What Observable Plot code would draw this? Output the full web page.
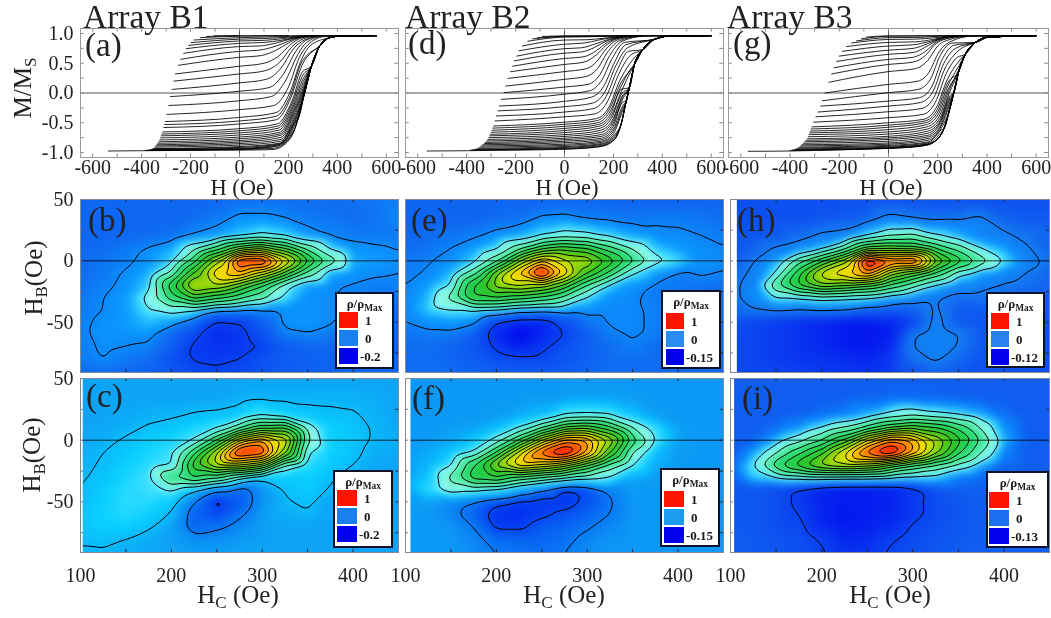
<!DOCTYPE html>
<html><head><meta charset="utf-8">
<script src="https://cdn.jsdelivr.net/npm/d3@7"></script>
<script src="https://cdn.jsdelivr.net/npm/@observablehq/plot@0.6"></script>
<style>
html,body{margin:0;padding:0;background:#fff;width:1051px;height:618px;overflow:hidden}
#root{position:relative;width:1051px;height:618px;font-family:"Liberation Serif",serif;color:#222;filter:blur(.45px)}
#root svg{position:absolute;overflow:visible;background:none}
.t{position:absolute;white-space:nowrap;line-height:1}
.t sub{font-size:.68em;vertical-align:-.32em;line-height:0}
.lg{position:absolute;background:#fff;border:2px solid #0a1428;box-sizing:border-box}
.sw{position:absolute}
.lt{position:absolute;font-weight:bold;font-size:13px;line-height:1;white-space:nowrap;color:#1a1a1a}
</style></head><body><div id="root"></div>
<script>
// ---- tick values
const hTicks=[-600,-400,-200,0,200,400,600];
const hMinor=[-600,-500,-400,-300,-200,-100,0,100,200,300,400,500,600];
const mTicks=[1,.5,0,-.5,-1];
const mMinor=[1,.75,.5,.25,0,-.25,-.5,-.75,-1];
const hcTicks=[100,200,300,400];
const hcMinor=[150,200,250,300,350,400];
const hbTicks=[50,0,-50];
const hbMinor=[25,0,-25,-50,-75];

// ---- FORC curves: H,M pairs per curve, then each joins its envelope
const envB1=[[0,-.96],[100,-.955],[137,-.95],[205,-.78],[239,-.44],[266,0],[294,.45],[328,.79],[369,.93],[420,.96],[560,.965]];
const curvesB1=[
[-105,.96,0,.965],
[-135,.95,0,.962,200,.965],
[-160,.93,0,.955,100,.958,200,.96,280,.965],
[-186,.89,0,.93,100,.94,180,.95,260,.96],
[-198,.846,0,.905,100,.915,170,.93,250,.955,300,.965],
[-208,.80,0,.875,100,.885,170,.91,240,.945,300,.965],
[-218,.745,0,.835,100,.85,170,.885,230,.93,300,.965],
[-228,.667,0,.78,80,.79,150,.84,220,.92,300,.965],
[-240,.566,0,.70,80,.72,150,.79,200,.87,240,.93,310,.965],
[-250,.465,0,.60,90,.63,150,.72,200,.84,240,.92,310,.965],
[-262,.32,0,.45,100,.50,160,.62,210,.82,250,.92,320,.965],
[-268,.20,0,.32,100,.37,165,.52,215,.78,260,.91,330,.965],
[-276,.06,0,.17,110,.23,170,.42,220,.74,265,.89,340,.965],
[-282,-.06,0,.03,120,.09,180,.32,230,.70,270,.88,340,.96],
[-289,-.21,0,-.13,130,-.06,190,.22,240,.66,275,.85,350,.96],
[-296,-.36,0,-.28,140,-.21,200,.10,245,.60,285,.83,350,.95],
[-303,-.48,0,-.41,150,-.33,205,0,250,.53,290,.80],
[-306,-.53,0,-.47,150,-.39,208,-.04,252,.5],
[-309,-.58,0,-.52,150,-.45,210,-.08,255,.46],
[-314,-.655,0,-.60,155,-.52,215,-.13,258,.36],
[-317,-.69,0,-.635,158,-.555,216,-.165,259,.3],
[-320,-.72,0,-.67,160,-.59,218,-.20,260,.24],
[-323,-.755,0,-.705,162,-.625,220,-.225,261,.19],
[-326,-.79,0,-.74,165,-.66,222,-.25,262,.14],
[-330,-.82,0,-.77,168,-.685,224,-.275,263,.1],
[-334,-.845,0,-.80,170,-.71,225,-.30,264,.07],
[-338,-.87,0,-.825,170,-.745,226,-.33,264,.05],
[-342,-.89,0,-.85,170,-.78,228,-.36,265,.03],
[-346,-.91,0,-.875,170,-.81,230,-.38],
[-350,-.935,0,-.90,170,-.84,232,-.40],
[-355,-.94,0,-.915,165,-.855,233,-.42],
[-360,-.95,0,-.93,160,-.87,235,-.44],
[-365,-.955,0,-.94,155,-.885,236,-.45],
[-375,-.96,0,-.945,150,-.9,225,-.6],
[-385,-.965,0,-.95,140,-.93,215,-.7],
[-536,-.975,-400,-.97,-200,-.965]];
const envB2=[[13,-.945],[150,-.9],[204,-.78],[231,-.53],[252,-.14],[265,.09],[286,.48],[320,.73],[367,.9],[423,.955],[600,.965]];
const curvesB2=[
[-90,.95,0,.96],
[-110,.93,0,.955,120,.958,220,.962,290,.965],
[-130,.91,0,.95,150,.955],
[-150,.87,0,.94,100,.945,180,.955,260,.965],
[-172,.79,0,.89,90,.895,160,.92,230,.95,290,.965],
[-186,.71,0,.82,80,.84,140,.89,200,.935,280,.965],
[-195,.62,0,.745,70,.76,130,.83,180,.9,240,.95,300,.965],
[-205,.54,0,.67,70,.69,120,.76,170,.87,230,.94,300,.965],
[-212,.45,0,.58,80,.61,130,.71,175,.85,230,.93,310,.965],
[-220,.358,0,.48,80,.52,130,.64,170,.8,220,.92,310,.965],
[-231,.246,0,.36,90,.41,130,.52,170,.74,220,.9,320,.965],
[-240,.117,0,.23,90,.28,135,.41,175,.68,225,.88,330,.96],
[-247,.006,0,.1,100,.15,145,.31,185,.63,235,.87,330,.955],
[-258,-.106,0,-.02,105,.04,150,.2,195,.58,245,.85],
[-266,-.218,0,-.14,110,-.07,160,.11,205,.52,250,.81],
[-271,-.30,0,-.23,115,-.17,165,.02,210,.46,258,.76],
[-278,-.386,0,-.32,120,-.26,170,-.06,215,.38,262,.7],
[-284,-.47,0,-.40,125,-.35,175,-.15,220,.3,266,.62],
[-290,-.554,0,-.49,130,-.43,180,-.25,225,.2,268,.5],
[-293,-.59,0,-.525,132,-.465,182,-.285,228,.15],
[-296,-.626,0,-.56,135,-.50,185,-.32,230,.1,270,.4],
[-299,-.66,0,-.595,138,-.53,188,-.355,231,.06],
[-303,-.694,0,-.63,140,-.56,190,-.39,232,.02,274,.39],
[-306,-.72,0,-.665,142,-.595,192,-.425,234,-.01],
[-309,-.75,0,-.70,145,-.63,195,-.46,236,-.05],
[-313,-.78,0,-.73,148,-.665,196,-.49,237,-.07],
[-318,-.806,0,-.76,150,-.70,198,-.52,238,-.1],
[-323,-.83,0,-.785,150,-.73,199,-.56,239,-.15],
[-328,-.85,0,-.81,150,-.76,200,-.6,240,-.2],
[-334,-.87,0,-.835,150,-.785,200,-.64,238,-.26],
[-340,-.89,0,-.86,150,-.81,200,-.68,235,-.33],
[-347,-.91,0,-.88,150,-.83,203,-.7],
[-355,-.93,0,-.9,150,-.85,205,-.72],
[-365,-.945,0,-.915,150,-.865,205,-.74],
[-375,-.955,0,-.93,150,-.88],
[-385,-.96,0,-.94,140,-.9],
[-561,-.975,-397,-.97,-200,-.96,0,-.945]];
const envB3=[[0,-.93],[120,-.9],[189,-.81],[224,-.61],[250,-.25],[265,0],[286,.37],[312,.65],[353,.85],[408,.94],[600,.965]];
const curvesB3=[
[-90,.94,0,.96],
[-110,.91,0,.955,120,.958,220,.962,290,.965],
[-130,.875,0,.93,130,.935,210,.955],
[-150,.84,0,.90,110,.905,190,.93,250,.955,300,.965],
[-170,.78,0,.85,110,.86,180,.9,240,.945,300,.965],
[-187,.70,0,.79,100,.81,170,.87,230,.94,300,.965],
[-200,.62,0,.72,100,.75,160,.83,215,.92,290,.965],
[-210,.53,0,.65,100,.68,150,.77,200,.89,260,.95,320,.965],
[-221,.425,0,.565,100,.6,150,.7,195,.86,250,.93,320,.965],
[-231,.32,0,.48,100,.52,150,.63,190,.82,245,.92,330,.96],
[-242,.18,0,.36,110,.41,160,.55,200,.79,250,.9,330,.955],
[-258,0,0,.145,120,.2,165,.35,205,.69,255,.87,340,.955],
[-268,-.13,0,.006,120,.06,170,.23,210,.63,258,.84],
[-275,-.22,0,-.135,125,-.08,175,.1,220,.58,265,.8],
[-286,-.32,0,-.22,130,-.16,180,.02,225,.5,272,.75],
[-295,-.40,0,-.315,135,-.26,185,-.07,230,.42,276,.68],
[-304,-.49,0,-.415,140,-.36,190,-.16,235,.33,280,.6],
[-311,-.57,0,-.5,145,-.44,195,-.24,238,.22,283,.52],
[-314,-.605,0,-.54,148,-.47,198,-.28,240,.17],
[-317,-.64,0,-.575,150,-.5,200,-.32,242,.13,285,.45],
[-320,-.67,0,-.615,152,-.535,202,-.36,244,.08],
[-323,-.70,0,-.654,155,-.57,205,-.4,245,.04,286,.4],
[-326,-.735,0,-.69,158,-.605,208,-.43,247,0],
[-329,-.77,0,-.727,160,-.64,210,-.46,248,-.05],
[-335,-.795,0,-.755,160,-.675,211,-.48,249,-.08],
[-340,-.82,0,-.78,160,-.71,212,-.5,250,-.1],
[-346,-.845,0,-.81,162,-.735,214,-.53,250,-.14],
[-352,-.87,0,-.84,165,-.76,215,-.55,250,-.18],
[-357,-.89,0,-.86,165,-.79,215,-.59],
[-362,-.91,0,-.88,165,-.82,215,-.62],
[-368,-.925,0,-.895,165,-.835,212,-.67],
[-375,-.94,0,-.91,165,-.85,210,-.72],
[-382,-.95,0,-.92,162,-.86],
[-390,-.96,0,-.925,160,-.87],
[-400,-.965,0,-.93,150,-.88],
[-570,-.98,-398,-.975,-200,-.955,0,-.93]];

// ---- distribution maps, rows by hbGrid, columns by hcGrid
const hcGrid=[100,125,150,175,200,225,250,275,300,325,350,375,400,425,450];
const hbGrid=[50,35,20,10,0,-10,-20,-30,-40,-50,-60,-70,-80,-91];
const mapB=[
[-.01,-.01,-.01,-.01,-.01,-.01,-.005,0,0,0,0,0,.005,.01,.015],
[-.01,-.01,-.01,-.01,-.01,0,.015,.04,.04,.03,.015,.01,0,.01,.03],
[-.01,-.01,-.005,0,.01,.035,.05,.08,.11,.09,.05,.028,.02,.015,.015],
[-.005,0,.015,.035,.06,.14,.26,.42,.5,.38,.2,.09,.045,.037,.028],
[0,.01,.02,.045,.08,.27,.55,.98,1,.68,.4,.2,.06,.05,.04],
[0,.015,.035,.06,.17,.45,.72,.8,.62,.42,.2,.06,.042,.035,.03],
[.005,.02,.04,.08,.35,.62,.58,.45,.3,.12,.05,.035,.028,.02,.02],
[.01,.03,.05,.12,.27,.4,.32,.25,.18,.09,.04,.035,.02,.01,.01],
[.015,.03,.05,.1,.12,.1,.04,.03,.03,.04,.04,.035,.02,0,-.01],
[.02,.04,.05,.07,.05,0,-.09,-.08,-.02,.04,.045,.035,.01,-.01,-.01],
[.02,.045,.04,.04,-.01,-.07,-.12,-.1,-.05,.02,.028,.015,-.01,-.01,-.01],
[.02,.035,.03,.025,-.02,-.09,-.11,-.1,-.08,-.03,-.01,-.01,-.01,-.015,-.015],
[.015,.032,.015,0,-.05,-.085,-.09,-.08,-.05,-.03,-.02,-.015,-.01,-.01,-.01],
[0,0,-.01,-.02,-.04,-.06,-.07,-.06,-.04,-.03,-.02,-.02,-.01,-.01,-.01]];
const mapC=[
[0,0,0,0,0,0,0,0,0,0,0,0,0,0,0],
[0,0,0,0,0,0,0,.01,.015,.015,.015,.015,.015,.01,0],
[0,0,.005,.015,.02,.03,.035,.045,.09,.06,.04,.035,.03,.015,0],
[0,.005,.015,.03,.04,.06,.09,.2,.35,.38,.14,.05,.04,.02,.005],
[.005,.015,.03,.05,.06,.1,.3,.65,.8,.65,.17,.05,.04,.02,.01],
[.01,.025,.04,.06,.09,.28,.58,1,.95,.55,.1,.05,.035,.01,.005],
[.015,.03,.05,.07,.09,.42,.6,.6,.5,.15,.07,.045,.025,.005,0],
[.02,.035,.06,.09,.25,.32,.25,.12,.04,.05,.05,.03,.01,0,0],
[.025,.045,.07,.09,.11,.04,-.04,-.08,-.02,.03,.045,.022,0,0,0],
[.03,.05,.075,.07,.05,-.05,-.14,-.09,-.02,.02,.035,0,0,0,0],
[.035,.055,.07,.055,.02,-.08,-.11,-.06,-.01,.01,.02,0,0,0,0],
[.035,.05,.05,.03,0,-.08,-.06,-.03,-.005,0,0,0,0,0,0],
[.03,.035,.025,.01,-.01,-.03,-.025,-.015,-.005,0,0,0,0,0,0],
[.02,.02,.01,0,0,-.005,-.005,0,0,0,0,0,0,0,0]];
const mapE=[
[-.01,-.01,-.01,-.01,-.01,-.01,-.01,-.01,-.01,-.01,-.01,-.01,-.01,-.01,-.01],
[-.01,-.01,-.01,-.01,0,.005,.03,.035,.02,.015,.01,.015,.015,.01,0],
[-.005,0,.01,.02,.04,.06,.1,.13,.12,.09,.06,.04,.035,.026,.018],
[0,.01,.025,.05,.09,.2,.35,.42,.38,.26,.15,.08,.05,.035,.027],
[.01,.022,.04,.08,.2,.5,.72,.6,.58,.42,.25,.12,.09,.04,.035],
[.015,.03,.065,.2,.5,.75,1.05,.72,.45,.28,.1,.05,.02,.03,.022],
[.025,.05,.1,.38,.55,.6,.55,.42,.22,.08,.04,.02,.015,.01,.005],
[.03,.07,.18,.38,.38,.33,.28,.2,.09,.04,.03,.015,.005,-.005,-.005],
[.03,.08,.1,.1,.09,.05,.04,.05,.04,.03,.03,.02,0,0,0],
[.025,.04,.045,.035,-.06,-.09,-.09,-.04,.01,.03,.03,.02,0,-.005,-.005],
[.01,.015,.015,-.02,-.09,-.14,-.1,-.06,-.02,.015,.03,.02,0,0,0],
[0,0,-.01,-.03,-.07,-.1,-.07,-.04,-.015,0,.02,0,-.005,0,0],
[0,0,-.01,-.02,-.04,-.05,-.05,-.03,-.015,0,0,0,0,0,0],
[0,0,0,-.01,-.02,-.02,-.02,-.015,-.01,0,0,0,0,0,0]];
const mapF=[
[0,0,0,0,0,0,0,0,0,0,0,0,0,0,0],
[0,0,0,0,0,0,0,.005,.01,.01,.005,0,0,0,0],
[0,0,0,0,.005,.02,.04,.1,.11,.1,.05,.01,0,0,0],
[0,0,.005,.015,.04,.1,.22,.38,.42,.32,.16,.08,.01,0,0],
[0,.005,.02,.05,.12,.3,.58,.82,.8,.58,.27,.1,.01,0,0],
[.005,.02,.05,.1,.3,.62,.92,1.05,.8,.45,.15,.04,.005,0,0],
[.01,.03,.09,.3,.55,.72,.65,.55,.38,.2,.1,.02,0,0,0],
[.01,.05,.18,.35,.38,.28,.22,.17,.13,.1,.02,.005,0,0,0],
[.015,.08,.14,.12,.09,.02,-.03,-.09,-.07,-.02,.005,0,0,0,0],
[.01,.01,-.01,-.035,-.07,-.09,-.1,-.1,-.07,-.035,0,0,0,0,0],
[0,0,-.02,-.05,-.1,-.11,-.09,-.07,-.05,-.03,0,0,0,0,0],
[0,0,-.005,-.03,-.09,-.09,-.06,-.05,-.035,-.015,0,0,0,0,0],
[0,0,0,-.02,-.045,-.05,-.05,-.04,-.02,-.005,0,0,0,0,0],
[0,0,0,-.01,-.03,-.035,-.04,-.03,-.01,0,0,0,0,0,0]];
const mapH=[
[-.04,-.04,-.04,-.04,-.04,-.04,-.04,-.04,-.04,-.04,-.04,-.04,-.04,-.04,-.04],
[-.04,-.04,-.04,-.04,-.035,-.03,-.02,.015,0,-.01,-.005,.01,-.02,-.03,-.03],
[-.04,-.035,-.03,-.01,.015,.025,.1,.16,.18,.11,.07,.03,.015,-.005,-.02],
[-.04,-.02,.01,.03,.08,.2,.4,.42,.4,.3,.2,.1,.06,.01,-.02],
[-.03,0,.06,.2,.35,.55,1.05,.92,.95,.55,.35,.2,.1,.03,-.01],
[-.02,.015,.1,.35,.62,.72,.85,.55,.42,.28,.12,.06,.03,0,-.02],
[-.01,.03,.22,.38,.5,.45,.38,.28,.18,.09,.03,.015,0,-.01,-.02],
[-.015,.04,.1,.1,.12,.11,.1,.06,.03,.01,-.01,-.005,-.015,-.02,-.03],
[-.02,0,.01,0,.01,.005,-.02,-.03,-.02,.012,-.03,-.03,-.03,-.03,-.03],
[-.04,-.05,-.06,-.07,-.08,-.09,-.09,-.08,-.05,.02,-.03,-.035,-.035,-.035,-.035],
[-.045,-.05,-.06,-.07,-.08,-.09,-.1,-.09,.002,.025,.007,-.03,-.035,-.04,-.04],
[-.05,-.05,-.06,-.07,-.08,-.09,-.095,-.08,.006,.025,.003,-.03,-.04,-.04,-.04],
[-.05,-.05,-.06,-.065,-.07,-.075,-.08,-.065,-.01,.012,-.015,-.035,-.04,-.04,-.04],
[-.05,-.05,-.05,-.055,-.06,-.065,-.07,-.06,-.04,-.02,-.03,-.04,-.04,-.04,-.04]];
const mapI=[
[0,0,0,0,0,0,0,0,0,0,0,0,0,0,0],
[0,0,0,0,0,0,.005,.01,.01,.01,.005,0,0,0,0],
[0,0,0,.005,.02,.04,.07,.12,.15,.12,.1,.07,.02,0,0],
[0,0,.02,.05,.1,.16,.25,.36,.42,.38,.28,.15,.05,0,0],
[0,.005,.07,.13,.22,.38,.65,.85,.78,.58,.4,.22,.07,0,0],
[0,.06,.15,.28,.42,.65,.92,1.05,.8,.55,.32,.16,.04,0,0],
[.005,.1,.28,.42,.55,.6,.55,.42,.3,.22,.14,.07,.01,0,0],
[.002,.08,.1,.12,.13,.12,.12,.11,.09,.08,.03,.01,0,0,0],
[-.005,-.01,-.025,-.05,-.08,-.09,-.09,-.085,-.06,-.015,0,0,0,0,0],
[-.005,-.01,-.02,-.05,-.08,-.09,-.09,-.08,-.05,-.025,-.01,0,0,0,0],
[-.005,-.01,-.02,-.04,-.08,-.1,-.09,-.08,-.055,-.025,-.01,0,0,0,0],
[-.005,-.01,-.02,-.03,-.07,-.09,-.085,-.07,-.035,-.02,-.01,0,0,0,0],
[0,-.005,-.015,-.02,-.045,-.08,-.07,-.045,-.025,-.015,-.005,0,0,0,0],
[0,-.005,-.01,-.02,-.035,-.06,-.055,-.035,-.02,-.01,0,0,0,0,0]];

const levelsPos=[.1,.16,.23,.3,.37,.44,.51,.58,.65,.72,.79,.86,.93];
const rampStops=[.05,.09,.12,.2,.32,.45,.6,.7,.85,1];
const rampColors=["#0a9cff","#40e0ff","#a0fff0","#40e8a0","#20d050","#30c020","#c0e000","#ffe000","#ff8000","#ff1000"];

const SERIF='"Liberation Serif",serif';
const root=document.getElementById("root");

function place(svg,x,y){svg.style.left=x+"px";svg.style.top=y+"px";root.appendChild(svg);}
function text(html,x,base,size,opts={}){
  const d=document.createElement("div");d.className="t";d.innerHTML=html;
  d.style.fontSize=size+"px";
  if(opts.rot){d.style.left=x+"px";d.style.top=base+"px";d.style.transform="translate(-50%,-50%) rotate(-90deg)";}
  else{d.style.left=x+"px";d.style.top=(base-size*.8375)+"px";if(opts.center)d.style.transform="translateX(-50%)";}
  root.appendChild(d);
}

function loopPanel(curves,env,x,showY){
  const pts=[];
  curves.forEach((row,c)=>{
    let lh,lm;
    for(let i=0;i<row.length;i+=2){pts.push({c,h:row[i],m:row[i+1]});lh=row[i];lm=row[i+1];}
    env.forEach(([h,m])=>{if(h>lh&&m>lm){pts.push({c,h,m});lm=m;lh=h;}});
  });
  const yd=[-1.084,1.084],xd=[-650,650];
  const svg=Plot.plot({width:x[1]-x[0],height:129,margin:0,
    style:{overflow:"visible",background:"none",fontFamily:SERIF},
    x:{domain:xd,axis:null},y:{domain:yd,axis:null},
    marks:[
      Plot.ruleY([0],{stroke:"#555",strokeWidth:1}),
      Plot.ruleX([0],{stroke:"#555",strokeWidth:1}),
      Plot.line(pts,{x:"h",y:"m",z:"c",curve:"monotone-x",stroke:"#000",strokeWidth:.85}),
      Plot.ruleX(hMinor,{x:d=>d,y1:yd[0],y2:yd[0]+.06,stroke:"#888"}),
      Plot.ruleX(hMinor,{x:d=>d,y1:yd[1],y2:yd[1]-.06,stroke:"#888"}),
      Plot.ruleY(mMinor,{y:d=>d,x1:xd[0],x2:xd[0]+15,stroke:"#888"}),
      Plot.ruleY(mMinor,{y:d=>d,x1:xd[1],x2:xd[1]-15,stroke:"#888"}),
      Plot.frame({stroke:"#999"}),
      Plot.axisX({ticks:hTicks,tickSize:0,tickPadding:2,fontSize:20,label:null,tickFormat:d=>String(d),fill:"#222"}),
      showY?Plot.axisY({ticks:mTicks,tickSize:0,tickPadding:7,fontSize:20,label:null,tickFormat:d=>d.toFixed(1),fill:"#222"}):null
    ]});
  place(svg,x[0],28);
}

function mapPanel(cfg){
  const data=[];
  hbGrid.forEach((hb,r)=>hcGrid.forEach((hc,c)=>data.push({x:hc,y:hb,v:cfg.map[r][c]})));
  const xd=[100,450],yd=[-91,50];
  const colors=rampColors.slice();colors[0]=cfg.halo;
  const svg=Plot.plot({width:cfg.x[1]-cfg.x[0],height:cfg.y[1]-cfg.y[0],margin:0,
    style:{overflow:"visible",background:"none",fontFamily:SERIF},
    x:{domain:xd,axis:null},y:{domain:yd,axis:null},
    color:{type:"linear",domain:[cfg.min,0,...rampStops],range:["#0000f0",cfg.zero,...colors],interpolate:"rgb",clamp:true},
    marks:[
      Plot.raster(data,{x:"x",y:"y",fill:"v",interpolate:"barycentric",pixelSize:1,blur:3,x1:100,x2:450,y1:-91,y2:50}),
      Plot.contour(data,{x:"x",y:"y",value:"v",interpolate:"barycentric",pixelSize:1,blur:3,thresholds:[...cfg.extra,...levelsPos],stroke:"#000",strokeWidth:1,fill:"none",x1:100,x2:450,y1:-91,y2:50}),
      cfg.strip?Plot.rect([cfg.strip],{x1:100,x2:d=>d,y1:-91,y2:50,fill:"#fff"}):null,
      Plot.ruleY([0],{x1:cfg.strip||100,x2:450,stroke:"#000",strokeWidth:1,strokeOpacity:.8}),
      Plot.ruleX(hcMinor,{x:d=>d,y1:yd[0],y2:yd[0]+2.5,stroke:"#223"}),
      Plot.ruleX(hcMinor,{x:d=>d,y1:yd[1],y2:yd[1]-2.5,stroke:"#223"}),
      Plot.ruleY(hbMinor,{y:d=>d,x1:xd[0],x2:xd[0]+3,stroke:"#667"}),
      Plot.ruleY(hbMinor,{y:d=>d,x1:xd[1],x2:xd[1]-3,stroke:"#223"}),
      Plot.frame({stroke:"#7f8a9a"}),
      cfg.showX?Plot.axisX({ticks:hcTicks,tickSize:0,tickPadding:15,fontSize:20,label:null,tickFormat:d=>String(d),fill:"#222"}):null,
      cfg.showY?Plot.axisY({ticks:hbTicks,tickSize:0,tickPadding:7,fontSize:20,label:null,tickFormat:d=>String(d),fill:"#222"}):null
    ]});
  place(svg,cfg.x[0],cfg.y[0]);
  // legend box
  const L=cfg.lg,b=document.createElement("div");b.className="lg";
  b.style.cssText=`left:${L.x}px;top:${L.y}px;width:${L.w}px;height:${L.h}px`;root.appendChild(b);
  const ti=document.createElement("div");ti.className="lt";ti.innerHTML='ρ/ρ<sub style="font-size:.72em;vertical-align:-.35em;line-height:0">Max</sub>';
  ti.style.cssText=`left:${L.x+L.w/2}px;top:${L.y+5}px;transform:translateX(-50%);font-size:13px`;root.appendChild(ti);
  [["#ff1400",1],[cfg.lgZero,0],["#0000ee",cfg.lgMin]].forEach(([col,lab],i)=>{
    const s=document.createElement("div");s.className="sw";
    s.style.cssText=`left:${L.sx}px;top:${L.sy+i*18}px;width:${L.sw}px;height:16px;background:${col}`;root.appendChild(s);
    const t=document.createElement("div");t.className="lt";t.textContent=lab;
    t.style.cssText=`left:${L.sx+L.sw+(i==2?2:7)}px;top:${L.sy+i*18+2}px`;root.appendChild(t);
  });
}

loopPanel(curvesB1,envB1,[80,398],true);
loopPanel(curvesB2,envB2,[405,723],false);
loopPanel(curvesB3,envB3,[728,1048],false);

mapPanel({map:mapB,x:[80,398],y:[199,372],min:-.2,zero:"#0f6cf2",halo:"#0a9cff",extra:[-.08,.03],showY:true,lgZero:"#1a80f0",lgMin:"-0.2",lg:{x:335,y:292,w:59,h:77,sx:339,sy:312,sw:19}});
mapPanel({map:mapC,x:[80,398],y:[378,552],strip:103,min:-.2,zero:"#0da4f5",halo:"#08d0ff",extra:[-.12,-.05,.025],showY:true,showX:true,lgZero:"#1a80ee",lgMin:"-0.2",lg:{x:333,y:470,w:60,h:78,sx:337,sy:490,sw:20}});
mapPanel({map:mapE,x:[405,723],y:[199,372],min:-.15,zero:"#0f6cf2",halo:"#0a9cff",extra:[-.06,.025],lgZero:"#2a8cf0",lgMin:"-0.15",lg:{x:661,y:290,w:60,h:79,sx:666,sy:313,sw:18}});
mapPanel({map:mapF,x:[405,723],y:[378,552],strip:106,min:-.15,zero:"#0c98f5",halo:"#08c8ff",extra:[-.08,-.03],showX:true,lgZero:"#1a9cf0",lgMin:"-0.15",lg:{x:660,y:468,w:60,h:79,sx:664,sy:491,sw:20}});
mapPanel({map:mapH,x:[730,1049],y:[199,372],strip:107.5,min:-.12,zero:"#1478f0",halo:"#0a90ff",extra:[.005],lgZero:"#2a80ee",lgMin:"-0.12",lg:{x:986,y:292,w:59,h:76,sx:991,sy:313,sw:18}});
mapPanel({map:mapI,x:[730,1049],y:[378,552],strip:104.5,min:-.13,zero:"#0f5ef0",halo:"#0a90ff",extra:[-.04],showX:true,lgZero:"#1a70ee",lgMin:"-0.13",lg:{x:986,y:471,w:63,h:77,sx:989,sy:492,sw:20}});

// titles and labels
text("Array B1",83,28.5,33.5);text("Array B2",405,28.5,33.5);text("Array B3",727,28.5,33.5);
[["(a)",85,57],["(d)",408,55],["(g)",733,55],["(b)",88,232],["(e)",411,232],["(h)",737,232],["(c)",86,408],["(f)",412,410],["(i)",742,410]]
  .forEach(([s,x,y])=>text(s,x,y,33));
[242,567,891].forEach(x=>text("H (Oe)",x,196,22.5,{center:true}));
[238,564,890].forEach(x=>text("H<sub>C</sub> (Oe)",x,603,25,{center:true}));
text("M/M<sub>S</sub>",22,88,25,{rot:true});
text("H<sub>B</sub>(Oe)",33,278,25,{rot:true});
text("H<sub>B</sub>(Oe)",31,455,25,{rot:true});
</script></body></html>
